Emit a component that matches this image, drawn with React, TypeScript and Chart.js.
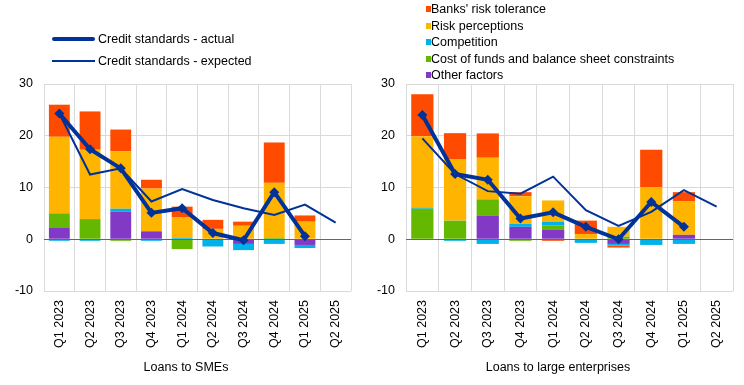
import React, { useEffect, useRef } from "react";
import { Chart, registerables } from "chart.js";

Chart.register(...registerables);

const categories = ["Q1 2023", "Q2 2023", "Q3 2023", "Q4 2023", "Q1 2024", "Q2 2024", "Q3 2024", "Q4 2024", "Q1 2025", "Q2 2025"];

// Loans to SMEs
const smeOther = [2.3, 0, 5.3, 1.4, 0, 0, -0.9, 0, -1.1, null];
const smeCost = [2.7, 3.9, -0.3, 0.2, -1.9, 0, 0, 0.3, 0, null];
const smeCompetition = [-0.3, -0.3, 0.6, -0.3, 0.3, -1.4, -1.2, -0.9, -0.6, null];
const smeRiskPerception = [14.8, 13.4, 11.1, 8.2, 4.0, 2.0, 2.6, 10.6, 3.4, null];
const smeRiskTolerance = [6.2, 7.4, 4.2, 1.7, 2.0, 1.75, 0.8, 7.8, 1.2, null];
const smeActual = [24.3, 17.4, 13.7, 5.1, 6.0, 1.2, -0.2, 9.1, 0.6, null];
const smeExpected = [24.3, 12.5, 13.7, 7.3, 9.7, 7.6, 6.0, 4.7, 6.7, 3.2];

// Loans to large enterprises
const largeOther = [0, 0, 4.6, 2.4, 1.8, 0, -0.9, 0, 0.85, null];
const largeCost = [5.9, 3.6, 3.1, -0.3, 0.9, 0, 0.5, 0, 0, null];
const largeCompetition = [0.2, -0.3, -0.9, 0.6, 0.7, -0.7, -0.3, -1.1, -0.9, null];
const largeRiskPerception = [13.8, 11.8, 8.05, 5.3, 4.1, 1.0, 1.9, 10.1, 6.45, null];
const largeRiskTolerance = [8.1, 5.1, 4.7, 0.8, -0.3, 2.6, -0.4, 7.2, 1.8, null];
const largeActual = [24.0, 12.6, 11.5, 4.0, 5.2, 2.4, 0.0, 7.2, 2.4, null];
const largeExpected = [19.5, 12.6, 9.3, 8.8, 12.1, 5.6, 2.6, 5.3, 9.5, 6.3];

const yTicks = [-10, 0, 10, 20, 30];

const C_TOL = "#FF4B00";
const C_PERC = "#FFB400";
const C_COMP = "#00B1EA";
const C_COST = "#65B800";
const C_OTHER = "#8139C6";
const C_LINE = "#003299";

const FONT_FAMILY = '"Liberation Sans", Arial, Helvetica, sans-serif';
const FONT_SIZE = 12.5;

const zeroLinePlugin = {
  id: "zeroLine",
  beforeDatasetDraw(chart: any, args: any) {
    if (args.index !== 1) return;
    const y = chart.scales.y.getPixelForValue(0);
    const { left, right } = chart.chartArea;
    const ctx = chart.ctx;
    ctx.save();
    ctx.strokeStyle = "#666666";
    ctx.lineWidth = 1;
    ctx.beginPath();
    ctx.moveTo(left, Math.round(y) + 0.5);
    ctx.lineTo(right, Math.round(y) + 0.5);
    ctx.stroke();
    ctx.restore();
  },
};

type PanelProps = {
  title: string;
  other: (number | null)[];
  cost: (number | null)[];
  competition: (number | null)[];
  perception: (number | null)[];
  tolerance: (number | null)[];
  actual: (number | null)[];
  expected: (number | null)[];
  yWidth: number;
  padRight: number;
};

function Panel(p: PanelProps) {
  const ref = useRef<HTMLCanvasElement | null>(null);
  useEffect(() => {
    if (!ref.current) return;
    const font = { family: FONT_FAMILY, size: FONT_SIZE };
    const bar = (label: string, data: (number | null)[], color: string) => ({
      type: "bar" as const,
      label,
      data,
      backgroundColor: color,
      borderWidth: 0,
      barPercentage: 0.68,
      categoryPercentage: 1,
    });
    const chart = new Chart(ref.current, {
      type: "bar",
      data: {
        labels: categories,
        datasets: [
          {
            type: "line",
            label: "Credit standards - actual",
            data: p.actual,
            borderColor: C_LINE,
            backgroundColor: C_LINE,
            borderWidth: 4,
            pointStyle: "rectRot",
            pointRadius: 5,
            pointBorderWidth: 0,
            stack: "actual",
            tension: 0,
          } as any,
          {
            type: "line",
            label: "Credit standards - expected",
            data: p.expected,
            borderColor: C_LINE,
            borderWidth: 2,
            pointRadius: 0,
            stack: "expected",
            tension: 0,
          } as any,
          bar("Other factors", p.other, C_OTHER),
          bar("Cost of funds and balance sheet constraints", p.cost, C_COST),
          bar("Competition", p.competition, C_COMP),
          bar("Risk perceptions", p.perception, C_PERC),
          bar("Banks' risk tolerance", p.tolerance, C_TOL),
        ],
      },
      options: {
        animation: false,
        responsive: false,
        maintainAspectRatio: false,
        layout: { padding: { top: 84, right: 0, left: 0, bottom: 0 } },
        plugins: {
          legend: { display: false },
          tooltip: { enabled: false },
          title: {
            display: true,
            text: p.title,
            position: "bottom",
            color: "#000",
            font: { ...font, weight: "normal", lineHeight: 1.2 },
            padding: { top: 0, bottom: 10 },
          },
        },
        scales: {
          x: {
            stacked: true,
            grid: { color: "#d9d9d9", offset: true, drawTicks: false },
            border: { display: false },
            ticks: { minRotation: 90, maxRotation: 90, padding: 9, color: "#000", font, autoSkip: false },
            afterFit: (s: any) => {
              s.height = 69;
            },
          },
          y: {
            stacked: true,
            min: -10,
            max: 30,
            afterBuildTicks: (s: any) => {
              s.ticks = yTicks.map((v) => ({ value: v }));
            },
            ticks: { padding: 11, color: "#000", font },
            grid: { color: "#d9d9d9", drawTicks: false },
            border: { display: false },
            afterFit: (s: any) => {
              s.width = p.yWidth;
            },
          },
          spacer: {
            position: "right",
            display: true,
            min: 0,
            max: 1,
            ticks: { display: false },
            grid: { display: false, drawTicks: false },
            border: { display: false },
            afterFit: (s: any) => {
              s.width = p.padRight;
            },
          },
        } as any,
      },
      plugins: [zeroLinePlugin],
    });
    return () => chart.destroy();
  }, []);
  return <canvas ref={ref} width={372} height={385} style={{ display: "block" }} />;
}

const textStyle: React.CSSProperties = {
  position: "absolute",
  fontFamily: FONT_FAMILY,
  fontSize: FONT_SIZE,
  color: "#000",
  lineHeight: "14px",
  whiteSpace: "nowrap",
};

const barLegend = [
  { label: "Banks' risk tolerance", color: C_TOL },
  { label: "Risk perceptions", color: C_PERC },
  { label: "Competition", color: C_COMP },
  { label: "Cost of funds and balance sheet constraints", color: C_COST },
  { label: "Other factors", color: C_OTHER },
];

export default function App() {
  return (
    <div style={{ position: "absolute", left: 0, top: 0, width: 744, height: 385, background: "#fff", overflow: "hidden" }}>
      <div style={{ position: "absolute", left: 0, top: 0 }}>
        <Panel
          title="Loans to SMEs"
          other={smeOther}
          cost={smeCost}
          competition={smeCompetition}
          perception={smeRiskPerception}
          tolerance={smeRiskTolerance}
          actual={smeActual}
          expected={smeExpected}
          yWidth={44}
          padRight={21}
        />
      </div>
      <div style={{ position: "absolute", left: 372, top: 0 }}>
        <Panel
          title="Loans to large enterprises"
          other={largeOther}
          cost={largeCost}
          competition={largeCompetition}
          perception={largeRiskPerception}
          tolerance={largeRiskTolerance}
          actual={largeActual}
          expected={largeExpected}
          yWidth={34}
          padRight={11}
        />
      </div>
      {/* line legend */}
      <div style={{ position: "absolute", left: 52, top: 37, width: 43, height: 4, background: C_LINE, borderRadius: 2 }} />
      <div style={{ ...textStyle, left: 98, top: 32 }}>Credit standards - actual</div>
      <div style={{ position: "absolute", left: 52, top: 60, width: 43, height: 2, background: C_LINE }} />
      <div style={{ ...textStyle, left: 98, top: 54 }}>Credit standards - expected</div>
      {/* bar legend */}
      {barLegend.map((item, i) => (
        <React.Fragment key={item.label}>
          <div
            style={{
              position: "absolute",
              left: 426,
              top: Math.round(9.3 + i * 16.5) - 3,
              width: 5,
              height: 6,
              background: item.color,
            }}
          />
          <div style={{ ...textStyle, left: 431, top: Math.round(9.3 + i * 16.5) - 7 }}>{item.label}</div>
        </React.Fragment>
      ))}
    </div>
  );
}
